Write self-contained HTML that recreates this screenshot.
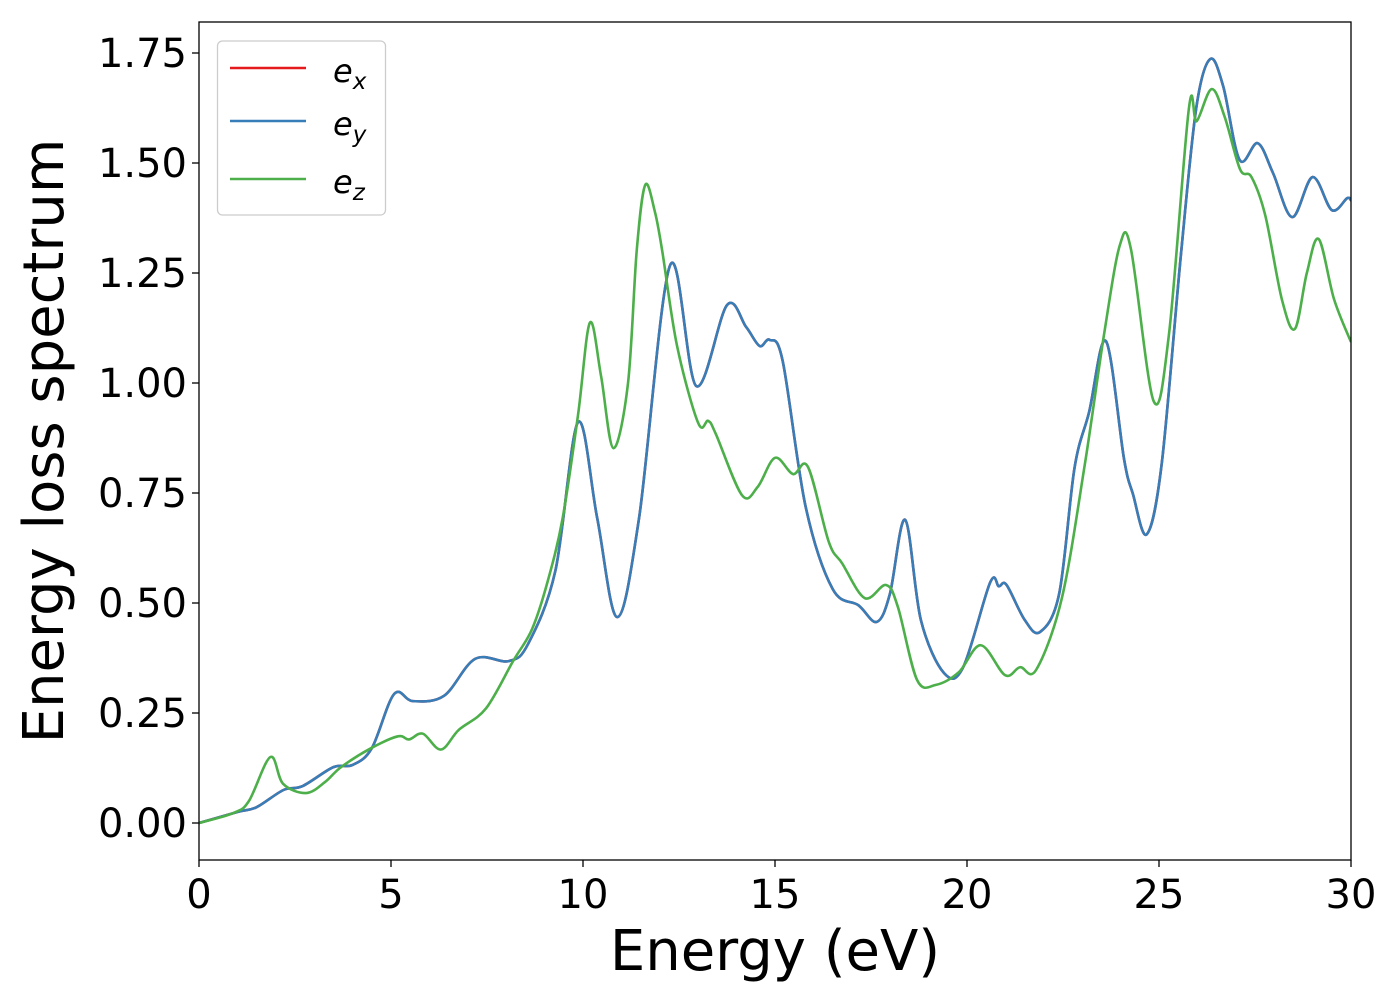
<!DOCTYPE html>
<html><head><meta charset="utf-8"><style>
body{margin:0;background:#fff;}
svg{display:block;font-family:"DejaVu Sans","Liberation Sans",sans-serif;}
</style></head><body>
<svg id="chart" width="1400" height="1000" viewBox="0 0 1400 1000" xmlns="http://www.w3.org/2000/svg">
<rect x="0" y="0" width="1400" height="1000" fill="#fff"/>
<g id="series"></g>
<rect x="199" y="22" width="1152" height="838" fill="none" stroke="#000" stroke-width="1.3"/>
<g id="xticks"></g>
<g id="yticks"></g>
<text x="775" y="970" font-size="56" text-anchor="middle">Energy (eV)</text>
<text transform="translate(63,441) rotate(-90)" font-size="56" text-anchor="middle">Energy loss spectrum</text>
<g>
<rect x="217.5" y="41" width="168" height="174" rx="5" fill="#fff" stroke="#ccc" stroke-width="1.3"/>
<line x1="230" y1="68" x2="306" y2="68" stroke="#e41a1c" stroke-width="2.5"/>
<text x="333" y="82" font-size="32" font-style="italic">e<tspan font-size="23" dy="7">x</tspan></text>
<line x1="230" y1="121" x2="306" y2="121" stroke="#377eb8" stroke-width="2.5"/>
<text x="333" y="135" font-size="32" font-style="italic">e<tspan font-size="23" dy="7">y</tspan></text>
<line x1="230" y1="179" x2="306" y2="179" stroke="#4daf4a" stroke-width="2.5"/>
<text x="333" y="193" font-size="32" font-style="italic">e<tspan font-size="23" dy="7">z</tspan></text>
</g>
</svg>
<script>
const xTicks=[0,5,10,15,20,25,30];
const yTicks=[0,0.25,0.5,0.75,1.0,1.25,1.5,1.75];
const exX=[0,1.0,1.5,2.2,2.7,3.5,4.0,4.5,5.08,5.57,6.38,7.19,8.07,8.57,9.28,9.87,10.37,10.89,11.46,12.27,12.95,13.75,14.25,14.6,14.86,15.2,15.8,16.5,17.17,17.65,17.99,18.39,18.8,19.4,19.9,20.6,20.83,21.03,21.5,21.9,22.4,22.8,23.18,23.62,24.09,24.32,24.68,25.07,25.57,25.97,26.33,26.67,27.1,27.57,27.97,28.47,29.0,29.5,29.9,30];
const exY=[0,0.025,0.036,0.075,0.084,0.127,0.132,0.17,0.293,0.277,0.289,0.373,0.368,0.407,0.573,0.911,0.693,0.468,0.693,1.268,0.993,1.177,1.127,1.084,1.098,1.05,0.718,0.532,0.495,0.457,0.52,0.689,0.461,0.341,0.354,0.546,0.538,0.541,0.462,0.434,0.521,0.807,0.934,1.095,0.827,0.748,0.656,0.816,1.291,1.625,1.736,1.675,1.507,1.545,1.477,1.377,1.468,1.393,1.42,1.415];
const eyX=exX.slice();
const eyY=exY.slice();
const ezX=[0,0.9,1.3,1.86,2.19,2.79,3.28,3.7,4.48,5.18,5.47,5.83,6.3,6.77,7.47,8.18,8.67,9.07,9.47,9.87,10.18,10.47,10.79,11.17,11.4,11.62,11.87,12.06,12.45,13.0,13.26,13.46,14.14,14.55,15.0,15.47,15.86,16.4,16.75,17.34,17.89,18.2,18.7,19.19,19.79,20.36,20.99,21.38,21.8,22.47,23.07,23.57,23.98,24.27,24.86,25.26,25.78,25.98,26.37,26.71,27.11,27.41,27.77,28.2,28.54,28.85,29.16,29.56,30];
const ezY=[0,0.023,0.05,0.15,0.089,0.068,0.093,0.127,0.17,0.197,0.19,0.203,0.167,0.212,0.26,0.368,0.44,0.546,0.693,0.927,1.137,1.016,0.852,0.998,1.302,1.45,1.39,1.302,1.084,0.909,0.914,0.884,0.745,0.764,0.83,0.793,0.809,0.639,0.59,0.511,0.541,0.491,0.325,0.314,0.343,0.404,0.336,0.354,0.348,0.511,0.816,1.111,1.313,1.304,0.959,1.111,1.625,1.595,1.668,1.605,1.486,1.468,1.38,1.19,1.123,1.25,1.327,1.19,1.093];

const NS='http://www.w3.org/2000/svg';
const X0=199,X1=1351,Y0=823,YPX=440;
function sx(v){return X0+(v-0)/(30-0)*(X1-X0);}
function sy(v){return Y0-v*YPX;}
function pathFrom(xs,ys){
  const p=xs.map((x,i)=>[sx(x),sy(ys[i])]);
  let d='M'+p[0][0].toFixed(2)+','+p[0][1].toFixed(2);
  for(let i=0;i<p.length-1;i++){
    const a=p[i>0?i-1:i],b=p[i],c=p[i+1],e=p[i+2<p.length?i+2:i+1];
    const t=6;
    const c1=[b[0]+(c[0]-a[0])/t,b[1]+(c[1]-a[1])/t];
    const c2=[c[0]-(e[0]-b[0])/t,c[1]-(e[1]-b[1])/t];
    d+='C'+c1[0].toFixed(2)+','+c1[1].toFixed(2)+' '+c2[0].toFixed(2)+','+c2[1].toFixed(2)+' '+c[0].toFixed(2)+','+c[1].toFixed(2);
  }
  return d;
}
const g=document.getElementById('series');
const defs=document.createElementNS(NS,'clipPath');defs.setAttribute('id','clip');
const cr=document.createElementNS(NS,'rect');cr.setAttribute('x',X0);cr.setAttribute('y',22);cr.setAttribute('width',X1-X0);cr.setAttribute('height',838);
defs.appendChild(cr);g.appendChild(defs);
g.setAttribute('clip-path','url(#clip)');
const series=[['ex',exX,exY,'#e41a1c'],['ey',eyX,eyY,'#377eb8'],['ez',ezX,ezY,'#4daf4a']];
series.forEach(s=>{
  const pth=document.createElementNS(NS,'path');
  pth.setAttribute('d',pathFrom(s[1],s[2]));
  pth.setAttribute('fill','none');pth.setAttribute('stroke',s[3]);pth.setAttribute('stroke-width','2.6');
  pth.setAttribute('stroke-linejoin','round');
  
  
  g.appendChild(pth);
});
const xg=document.getElementById('xticks');
xTicks.forEach(v=>{
  const l=document.createElementNS(NS,'line');
  l.setAttribute('x1',sx(v));l.setAttribute('x2',sx(v));l.setAttribute('y1',860);l.setAttribute('y2',867);l.setAttribute('stroke','#000');l.setAttribute('stroke-width','1.3');
  
  
  xg.appendChild(l);
  const t=document.createElementNS(NS,'text');
  t.setAttribute('x',sx(v));t.setAttribute('y',908);t.setAttribute('font-size','40');t.setAttribute('text-anchor','middle');
  t.textContent=String(v);
  
  
  xg.appendChild(t);
});
const yg=document.getElementById('yticks');
yTicks.forEach(v=>{
  const l=document.createElementNS(NS,'line');
  l.setAttribute('x1',192);l.setAttribute('x2',199);l.setAttribute('y1',sy(v));l.setAttribute('y2',sy(v));l.setAttribute('stroke','#000');l.setAttribute('stroke-width','1.3');
  
  
  yg.appendChild(l);
  const t=document.createElementNS(NS,'text');
  t.setAttribute('x',187);t.setAttribute('y',sy(v)+14);t.setAttribute('font-size','40');t.setAttribute('text-anchor','end');
  t.textContent=v.toFixed(2);
  
  
  yg.appendChild(t);
});
</script>
</body></html>
